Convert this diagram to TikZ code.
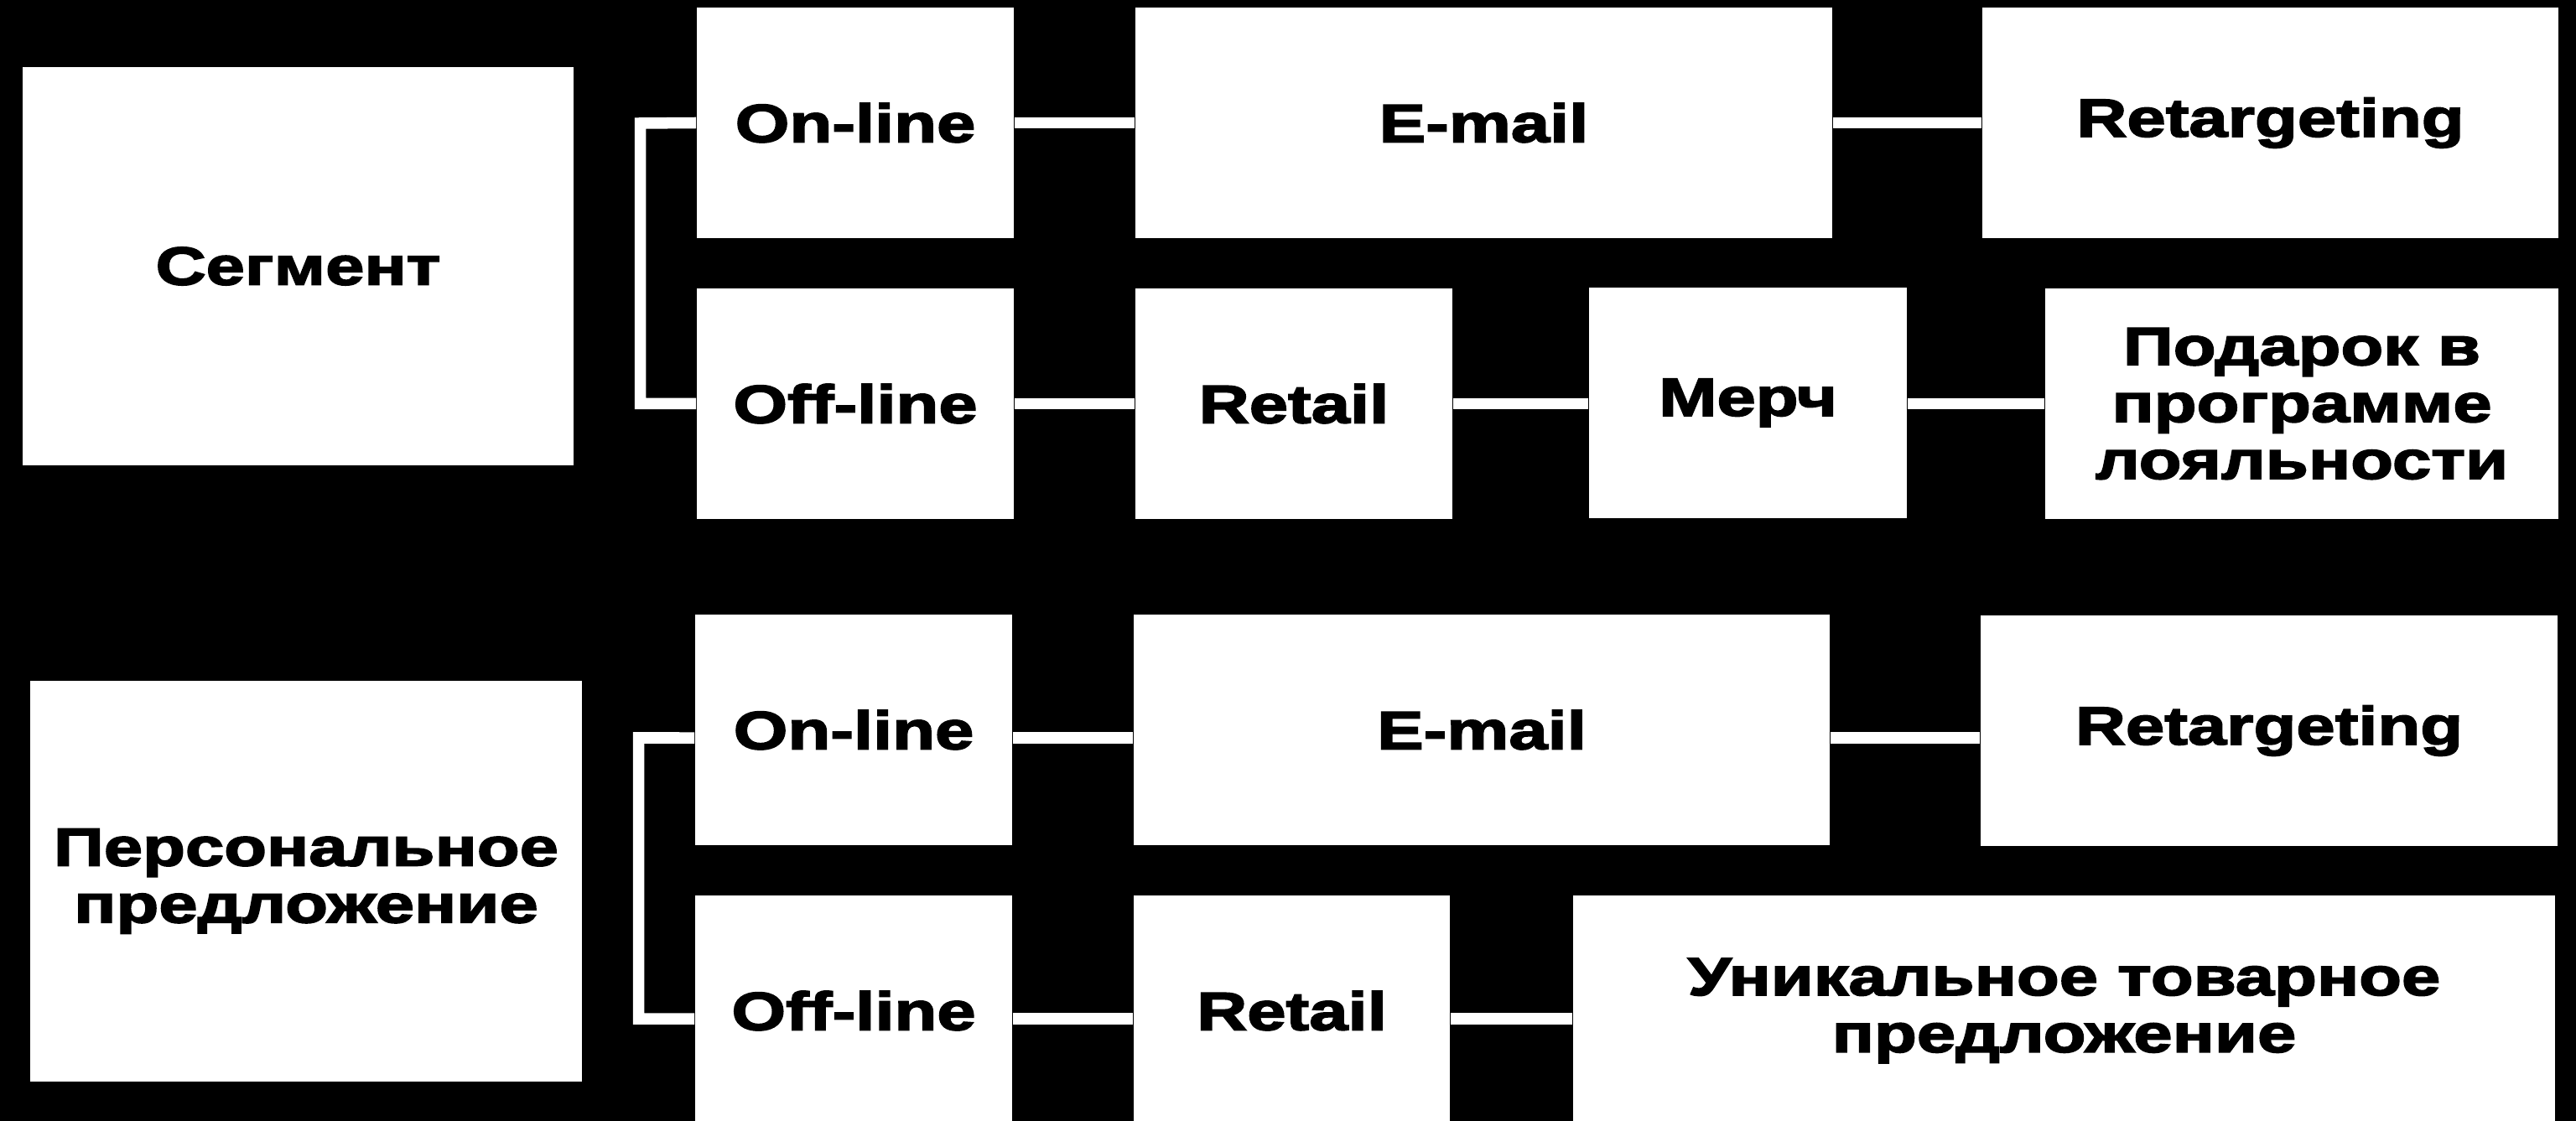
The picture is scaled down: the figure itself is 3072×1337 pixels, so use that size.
\documentclass[tikz,border=0pt]{standalone}
\usepackage{fontspec}
\setmainfont{Liberation Sans}[BoldFeatures={FakeStretch=1.3,FakeBold=2.8}]
\begin{document}
\begin{tikzpicture}[x=0.01cm,y=-0.01cm,
  box/.style={rectangle,fill=white,inner sep=0pt,align=center,text=black,
    font=\fontsize{18.2pt}{19.3pt}\selectfont\bfseries},
  link/.style={draw=white,line width=0.135cm,line join=miter}]
\fill[black] (0,0) rectangle (3072,1337);
\useasboundingbox (0,0) rectangle (3072,1337);
% top group
\node[box,minimum width=6.57cm,minimum height=4.75cm] (seg) at (355.5,317.5) {Сегмент};
\node[box,minimum width=3.78cm,minimum height=2.75cm] (on1) at (1020,146.5) {On-line};
\node[box,minimum width=3.78cm,minimum height=2.75cm] (off1) at (1020,481.5) {Off-line};
\node[box,minimum width=8.31cm,minimum height=2.75cm] (em1) at (1769.5,146.5) {E-mail};
\node[box,minimum width=6.87cm,minimum height=2.75cm] (rt1) at (2707.5,146.5) {Retargeting};
\node[box,minimum width=3.78cm,minimum height=2.75cm] (ret1) at (1543,481.5) {Retail};
\node[box,minimum width=3.79cm,minimum height=2.75cm] (merch) at (2084.5,480.5) {Мерч};
\node[box,minimum width=6.12cm,minimum height=2.75cm] (gift) at (2745,481.5) {Подарок в\\программе\\лояльности};
% lower group
\node[box,minimum width=6.58cm,minimum height=4.78cm] (pers) at (365,1051) {Персональное\\предложение};
\node[box,minimum width=3.78cm,minimum height=2.75cm] (on2) at (1018,870.5) {On-line};
\node[box,minimum width=3.78cm,minimum height=2.75cm] (off2) at (1018,1205.5) {Off-line};
\node[box,minimum width=8.30cm,minimum height=2.75cm] (em2) at (1767,870.5) {E-mail};
\node[box,minimum width=6.88cm,minimum height=2.75cm] (rt2) at (2706,871.5) {Retargeting};
\node[box,minimum width=3.77cm,minimum height=2.75cm] (ret2) at (1540.5,1205.5) {Retail};
\node[box,minimum width=11.71cm,minimum height=2.75cm] (uni) at (2461.5,1205.5) {Уникальное товарное\\предложение};
% connectors top
\coordinate (b1) at (763.5,147);
\draw[link] (on1.west) -- (b1) |- (off1.west);
\draw[link] (on1.east) -- (em1.west);
\draw[link] (em1.east) -- (rt1.west);
\draw[link] (off1.east) -- (ret1.west);
\draw[link] (ret1.east) -- (merch.west |- ret1.east);
\draw[link] (merch.east |- ret1.east) -- (gift.west);
% connectors lower
\coordinate (b2) at (761.5,880);
\draw[link] ([yshift=-0.095cm]on2.west) -- (b2) |- ([yshift=-0.095cm]off2.west);
\draw[link] ([yshift=-0.095cm]on2.east) -- ([yshift=-0.095cm]em2.west);
\draw[link] ([yshift=-0.095cm]em2.east) -- ([yshift=-0.085cm]rt2.west);
\draw[link] ([yshift=-0.095cm]off2.east) -- ([yshift=-0.095cm]ret2.west);
\draw[link] ([yshift=-0.095cm]ret2.east) -- ([yshift=-0.095cm]uni.west);
\end{tikzpicture}
\end{document}
